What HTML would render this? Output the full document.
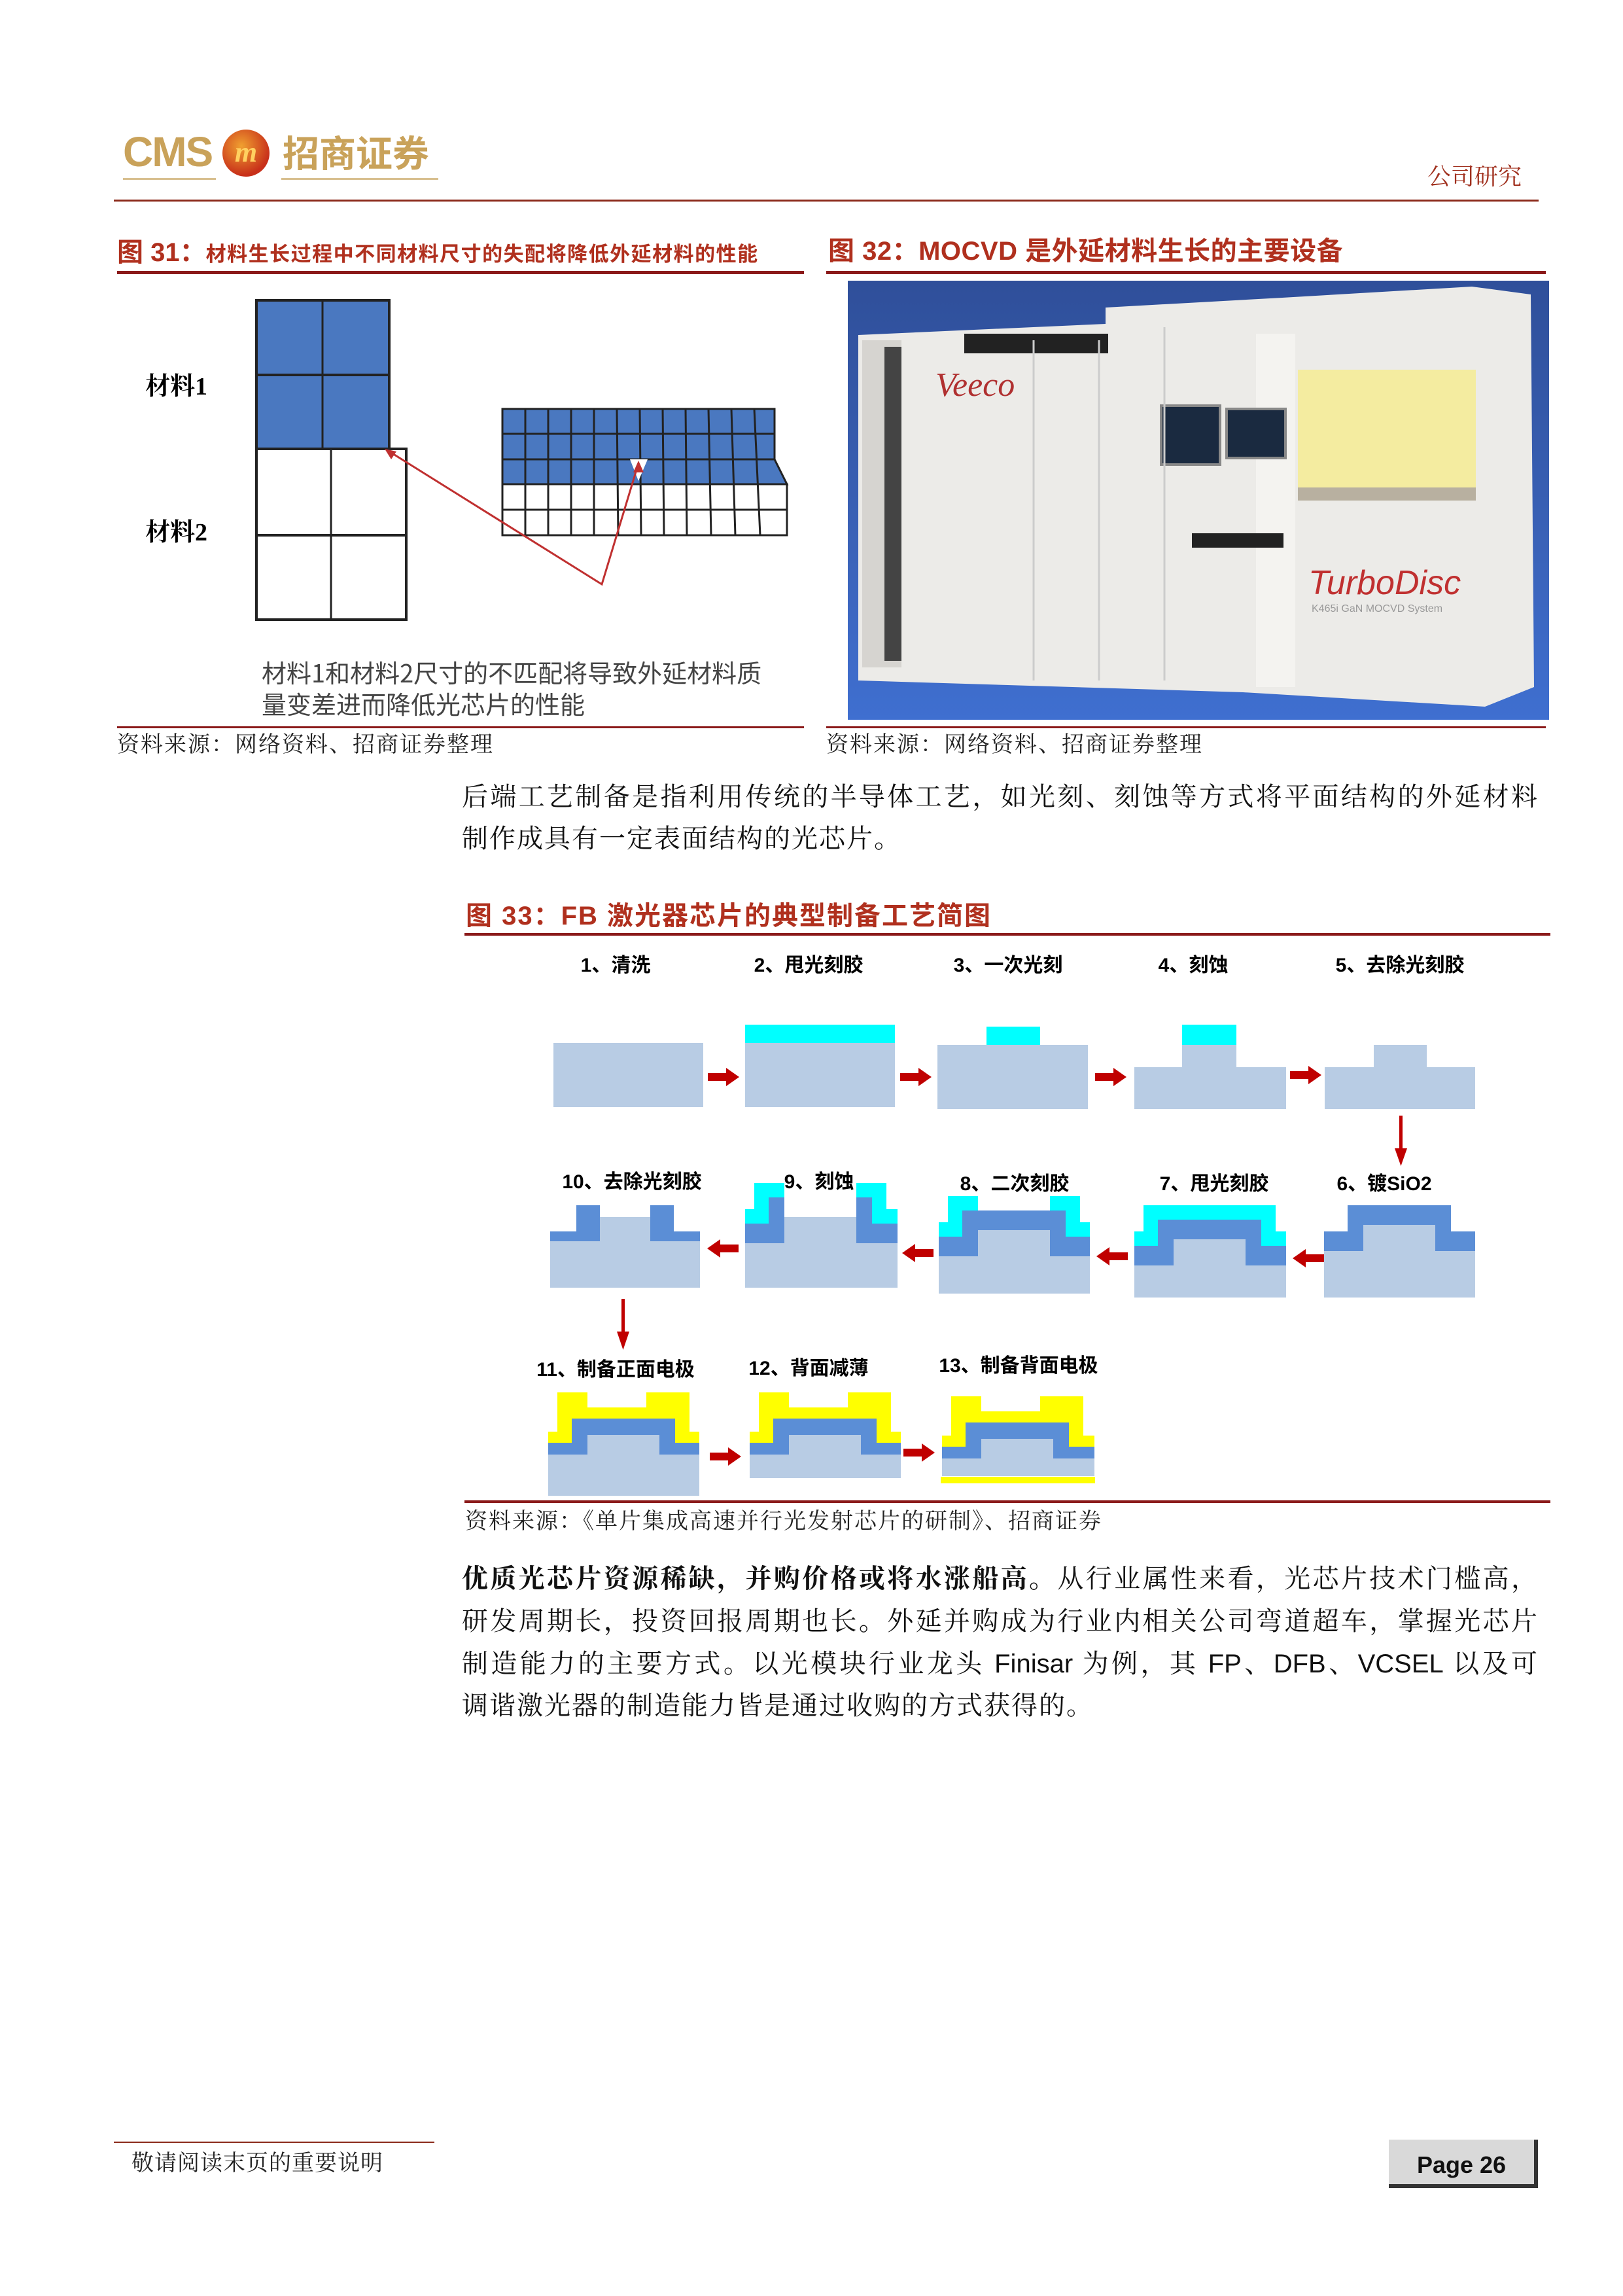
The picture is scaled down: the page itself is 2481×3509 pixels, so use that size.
<!DOCTYPE html>
<html><head><meta charset="utf-8"><style>
body{margin:0;background:#fff}
#p{position:relative;width:2481px;height:3509px;overflow:hidden;background:#fff;font-family:"Liberation Serif","Noto Serif CJK SC",serif}
.a{position:absolute;white-space:nowrap;line-height:1}
.t{color:#b0301e;font-family:"Liberation Sans","Noto Sans CJK SC",sans-serif;font-weight:bold}
.src{font-size:34px;color:#222;letter-spacing:2px}
.bl{position:absolute;left:706px;width:1644px;font-size:40px;line-height:1;color:#111;text-align:justify;text-align-last:justify;white-space:nowrap}
.lb{position:absolute;font-family:"Liberation Sans","Noto Sans CJK SC",sans-serif;font-weight:bold;font-size:30px;color:#000;line-height:1;white-space:nowrap;transform:translateX(-50%)}
</style></head><body><div id="p">
<!-- header -->
<div class="a" style="left:188px;top:200px;font-family:'Liberation Sans',sans-serif;font-weight:bold;font-size:64px;color:#c9a25a;letter-spacing:-2px">CMS</div>
<div class="a" style="left:340px;top:198px;width:72px;height:72px;border-radius:50%;background:radial-gradient(circle at 40% 35%,#f0a030,#c8301a 70%);color:#ffd060;font:bold italic 44px 'Liberation Serif',serif;text-align:center;line-height:70px">m</div>
<div class="a" style="left:432px;top:204px;font-family:'Noto Sans CJK SC',sans-serif;font-weight:bold;font-size:56px;color:#c9a25a">招商证券</div>
<div class="a" style="left:188px;top:272px;width:142px;height:3px;background:#d8c090"></div>
<div class="a" style="left:430px;top:272px;width:240px;height:3px;background:#d8c090"></div>
<div class="a" style="left:2182px;top:250px;font-size:36px;color:#a0301e;font-family:'Noto Serif CJK SC',serif">公司研究</div>
<div class="a" style="left:174px;top:305px;width:2178px;height:3px;background:#8b2a1a"></div>

<!-- fig 31/32 titles -->
<div class="a t" style="left:179px;top:366px;font-size:40px">图 31：<span style="font-size:31px;letter-spacing:1.5px">材料生长过程中不同材料尺寸的失配将降低外延材料的性能</span></div>
<div class="a" style="left:179px;top:414px;width:1050px;height:5px;background:#8b1a1a"></div>
<div class="a t" style="left:1266px;top:364px;font-size:40px;letter-spacing:0.5px">图 32：MOCVD 是外延材料生长的主要设备</div>
<div class="a" style="left:1263px;top:414px;width:1100px;height:5px;background:#8b1a1a"></div>

<svg class="a" style="left:0;top:0" width="2481" height="1200">
 <!-- fig31 -->
 <rect x="392" y="459" width="203" height="227" fill="#4a78c0" stroke="#222" stroke-width="4"/>
 <line x1="493" y1="459" x2="493" y2="686" stroke="#222" stroke-width="3"/>
 <line x1="392" y1="573" x2="595" y2="573" stroke="#222" stroke-width="4"/>
 <rect x="392" y="686" width="229" height="261" fill="#fff" stroke="#222" stroke-width="4"/>
 <line x1="506" y1="686" x2="506" y2="947" stroke="#222" stroke-width="3"/>
 <line x1="392" y1="818" x2="621" y2="818" stroke="#222" stroke-width="4"/>
 <polygon points="768,625 1184,625 1184,702 1203,740 768,740" fill="#4a78c0" stroke="#222" stroke-width="3"/>
 <line x1="768" y1="663" x2="1184" y2="663" stroke="#222" stroke-width="3"/>
 <line x1="768" y1="702" x2="1184" y2="702" stroke="#222" stroke-width="3"/>
 <rect x="768" y="740" width="435" height="78" fill="#fff" stroke="#222" stroke-width="3"/>
 <line x1="768" y1="779" x2="1203" y2="779" stroke="#222" stroke-width="3"/>
 <g stroke="#222" stroke-width="3">
  <line x1="803" y1="625" x2="803" y2="818"/><line x1="838" y1="625" x2="838" y2="818"/><line x1="873" y1="625" x2="873" y2="818"/><line x1="908" y1="625" x2="908" y2="818"/><line x1="943" y1="625" x2="945" y2="818"/><line x1="978" y1="625" x2="980" y2="818"/><line x1="1013" y1="625" x2="1015" y2="818"/><line x1="1048" y1="625" x2="1050" y2="818"/><line x1="1083" y1="625" x2="1087" y2="818"/><line x1="1118" y1="625" x2="1124" y2="818"/><line x1="1153" y1="625" x2="1162" y2="818"/>
 </g>
 <polygon points="963,702 990,702 976,735" fill="#fff"/>
 <polyline points="595,690 920,893 976,708" fill="none" stroke="#c03030" stroke-width="3"/>
 <polygon points="588,686 606,690 598,702" fill="#c03030"/>
 <polygon points="976,704 968,722 984,722" fill="#c03030"/>
 <!-- fig32 photo -->
 <defs><linearGradient id="bg" x1="0" y1="0" x2="0" y2="1"><stop offset="0" stop-color="#2f4f9a"/><stop offset="0.6" stop-color="#3a62b8"/><stop offset="1" stop-color="#3f6fd0"/></linearGradient></defs>
 <rect x="1296" y="429" width="1072" height="671" fill="url(#bg)"/>
 <polygon points="1312,512 1690,495 1690,470 1960,455 2250,438 2340,450 2345,1050 2270,1080 1900,1058 1312,1040" fill="#ecebe8"/>
 <rect x="1318" y="520" width="60" height="500" fill="#d6d4d0"/>
 <rect x="1352" y="530" width="26" height="480" fill="#444"/>
 <rect x="1920" y="510" width="60" height="540" fill="#f4f3f0"/>
 <rect x="1984" y="565" width="272" height="197" fill="#f4eca0"/>
 <rect x="1984" y="745" width="272" height="20" fill="#b8b0a0"/>
 <rect x="1474" y="510" width="220" height="30" fill="#222"/>
 <rect x="1775" y="620" width="90" height="90" fill="#1a2a40" stroke="#888" stroke-width="4"/>
 <rect x="1875" y="625" width="90" height="75" fill="#1a2a40" stroke="#888" stroke-width="4"/>
 <rect x="1822" y="815" width="140" height="22" fill="#222"/>
 <line x1="1580" y1="520" x2="1580" y2="1040" stroke="#ccc" stroke-width="3"/>
 <line x1="1680" y1="520" x2="1680" y2="1040" stroke="#ccc" stroke-width="3"/>
 <line x1="1780" y1="500" x2="1780" y2="1040" stroke="#ccc" stroke-width="3"/>
 <text x="1430" y="605" font-family="Liberation Serif" font-style="italic" font-size="52" fill="#b03030">Veeco</text>
 <text x="2000" y="908" font-family="Liberation Sans" font-style="italic" font-size="52" fill="#c03030">TurboDisc</text>
 <text x="2005" y="935" font-family="Liberation Sans" font-size="16" fill="#999">K465i GaN MOCVD System</text>
</svg>

<div class="a" style="left:222px;top:572px;font-size:38px;font-weight:bold;font-family:'Liberation Serif','Noto Serif CJK SC',serif">材料1</div>
<div class="a" style="left:222px;top:795px;font-size:38px;font-weight:bold;font-family:'Liberation Serif','Noto Serif CJK SC',serif">材料2</div>
<div class="a" style="left:400px;top:1008px;font-size:38px;color:#444;font-family:'Noto Sans CJK SC',sans-serif">材料1和材料2尺寸的不匹配将导致外延材料质</div>
<div class="a" style="left:400px;top:1056px;font-size:38px;color:#444;font-family:'Noto Sans CJK SC',sans-serif">量变差进而降低光芯片的性能</div>

<div class="a" style="left:179px;top:1110px;width:1050px;height:3px;background:#8b1a1a"></div>
<div class="a" style="left:1263px;top:1110px;width:1100px;height:3px;background:#8b1a1a"></div>
<div class="a src" style="left:179px;top:1122px">资料来源：网络资料、招商证券整理</div>
<div class="a src" style="left:1263px;top:1122px">资料来源：网络资料、招商证券整理</div>

<div class="bl" style="top:1198px">后端工艺制备是指利用传统的半导体工艺，如光刻、刻蚀等方式将平面结构的外延材料</div>
<div class="a" style="left:706px;top:1262px;font-size:40px;letter-spacing:2px;color:#111">制作成具有一定表面结构的光芯片。</div>

<!-- fig33 -->
<div class="a t" style="left:712px;top:1380px;font-size:40px;letter-spacing:2px">图 33：FB 激光器芯片的典型制备工艺简图</div>
<div class="a" style="left:710px;top:1426px;width:1660px;height:4px;background:#8b1a1a"></div>

<div class="lb" style="left:941px;top:1461px">1、清洗</div>
<div class="lb" style="left:1236px;top:1461px">2、甩光刻胶</div>
<div class="lb" style="left:1541px;top:1461px">3、一次光刻</div>
<div class="lb" style="left:1824px;top:1461px">4、刻蚀</div>
<div class="lb" style="left:2140px;top:1461px">5、去除光刻胶</div>
<div class="lb" style="left:966px;top:1792px">10、去除光刻胶</div>
<div class="lb" style="left:1252px;top:1792px">9、刻蚀</div>
<div class="lb" style="left:1551px;top:1795px">8、二次刻胶</div>
<div class="lb" style="left:1856px;top:1795px">7、甩光刻胶</div>
<div class="lb" style="left:2116px;top:1795px">6、镀SiO2</div>
<div class="lb" style="left:941px;top:2079px">11、制备正面电极</div>
<div class="lb" style="left:1236px;top:2077px">12、背面减薄</div>
<div class="lb" style="left:1557px;top:2073px">13、制备背面电极</div>

<svg class="a" style="left:0;top:0" width="2481" height="2320">
 <g fill="#b8cce4">
  <rect x="846" y="1594" width="229" height="98"/>
  <rect x="1139" y="1594" width="229" height="98"/>
  <rect x="1433" y="1597" width="230" height="98"/>
  <path d="M1734,1631H1807V1597H1890V1631H1966V1695H1734Z"/>
  <path d="M2025,1631H2100V1597H2181V1631H2255V1695H2025Z"/>
 </g>
 <g fill="#00ffff">
  <rect x="1139" y="1566" width="229" height="28"/>
  <rect x="1508" y="1569" width="82" height="28"/>
  <rect x="1807" y="1566" width="83" height="31"/>
 </g>
 <g fill="#c00000">
  <g transform="translate(1106,1646)"><path d="M-24,-6H4V-14L24,0L4,14V6H-24Z"/></g>
  <g transform="translate(1400,1646)"><path d="M-24,-6H4V-14L24,0L4,14V6H-24Z"/></g>
  <g transform="translate(1698,1646)"><path d="M-24,-6H4V-14L24,0L4,14V6H-24Z"/></g>
  <g transform="translate(1996,1643)"><path d="M-24,-6H4V-14L24,0L4,14V6H-24Z"/></g>
  <rect x="2139" y="1705" width="5" height="55"/><polygon points="2132,1755 2151,1755 2141.5,1782"/>
  <g transform="translate(2000,1923) scale(-1,1)"><path d="M-24,-6H4V-14L24,0L4,14V6H-24Z"/></g>
  <g transform="translate(1700,1920) scale(-1,1)"><path d="M-24,-6H4V-14L24,0L4,14V6H-24Z"/></g>
  <g transform="translate(1403,1915) scale(-1,1)"><path d="M-24,-6H4V-14L24,0L4,14V6H-24Z"/></g>
  <g transform="translate(1105,1908) scale(-1,1)"><path d="M-24,-6H4V-14L24,0L4,14V6H-24Z"/></g>
  <rect x="950" y="1985" width="5" height="55"/><polygon points="943,2035 962,2035 952.5,2063"/>
  <g transform="translate(1109,2226)"><path d="M-24,-6H4V-14L24,0L4,14V6H-24Z"/></g>
  <g transform="translate(1405,2220)"><path d="M-24,-6H4V-14L24,0L4,14V6H-24Z"/></g>
 </g>
 <g transform="translate(2024,1842)">
  <path d="M0,70H60V30H170V70H231V141H0Z" fill="#b8cce4"/>
  <polygon points="0,40 36,40 36,0 194,0 194,40 231,40 231,70 170,70 170,30 60,30 60,70 0,70" fill="#5b8ed6"/>
 </g>
 <g transform="translate(1734,1864)">
  <path d="M0,70H60V30H170V70H232V119H0Z" fill="#b8cce4"/>
  <polygon points="0,40 36,40 36,0 194,0 194,40 232,40 232,70 170,70 170,30 60,30 60,70 0,70" fill="#5b8ed6"/>
  <polygon points="0,18 14,18 14,-22 216,-22 216,18 232,18 232,40 194,40 194,0 36,0 36,40 0,40" fill="#00ffff"/>
 </g>
 <g transform="translate(1435,1850)">
  <path d="M0,70H60V30H170V70H231V127H0Z" fill="#b8cce4"/>
  <polygon points="0,40 36,40 36,0 194,0 194,40 231,40 231,70 170,70 170,30 60,30 60,70 0,70" fill="#5b8ed6"/>
  <polygon points="0,18 14,18 14,-22 60,-22 60,0 36,0 36,40 0,40" fill="#00ffff"/>
  <polygon points="231,18 216,18 216,-22 170,-22 170,0 194,0 194,40 231,40" fill="#00ffff"/>
 </g>
 <g transform="translate(1139,1830)">
  <path d="M0,70H60V30H170V70H233V138H0Z" fill="#b8cce4"/>
  <polygon points="0,40 36,40 36,0 60,0 60,70 0,70" fill="#5b8ed6"/>
  <polygon points="233,40 194,40 194,0 170,0 170,70 233,70" fill="#5b8ed6"/>
  <polygon points="0,18 14,18 14,-22 60,-22 60,0 36,0 36,40 0,40" fill="#00ffff"/>
  <polygon points="233,18 216,18 216,-22 170,-22 170,0 194,0 194,40 233,40" fill="#00ffff"/>
 </g>
 <g transform="translate(841,1842)">
  <path d="M0,55H60V18H170V55H229V126H0Z" fill="#b8cce4"/>
  <polygon points="0,40 40,40 40,0 76,0 76,55 0,55" fill="#5b8ed6"/>
  <polygon points="229,40 189,40 189,0 153,0 153,55 229,55" fill="#5b8ed6"/>
  <path d="M76,18H153V55H76Z" fill="#b8cce4"/>
 </g>
 <g transform="translate(838,2173)">
  <path d="M0,50H60V20H170V50H231V113H0Z" fill="#b8cce4"/>
  <polygon points="14,-45 14,15 0,15 0,32 36,32 36,-5 194,-5 194,32 231,32 231,15 216,15 216,-45 150,-45 150,-22 60,-22 60,-45" fill="#ffff00"/>
  <polygon points="36,-5 194,-5 194,32 231,32 231,50 170,50 170,20 60,20 60,50 0,50 0,32 36,32" fill="#5b8ed6"/>
 </g>
 <g transform="translate(1146,2173)">
  <path d="M0,50H60V20H170V50H231V86H0Z" fill="#b8cce4"/>
  <polygon points="14,-45 14,15 0,15 0,32 36,32 36,-5 194,-5 194,32 231,32 231,15 216,15 216,-45 150,-45 150,-22 60,-22 60,-45" fill="#ffff00"/>
  <polygon points="36,-5 194,-5 194,32 231,32 231,50 170,50 170,20 60,20 60,50 0,50 0,32 36,32" fill="#5b8ed6"/>
 </g>
 <g transform="translate(1440,2179)">
  <path d="M0,50H60V20H170V50H233V77H0Z" fill="#b8cce4"/>
  <polygon points="14,-45 14,15 0,15 0,32 36,32 36,-5 194,-5 194,32 233,32 233,15 216,15 216,-45 150,-45 150,-22 60,-22 60,-45" fill="#ffff00"/>
  <polygon points="36,-5 194,-5 194,32 233,32 233,50 170,50 170,20 60,20 60,50 0,50 0,32 36,32" fill="#5b8ed6"/>
  <rect x="-2" y="78" width="236" height="10" fill="#ffff00"/>
 </g>
</svg>

<div class="a" style="left:710px;top:2293px;width:1660px;height:4px;background:#8b1a1a"></div>
<div class="a src" style="left:711px;top:2309px">资料来源：《单片集成高速并行光发射芯片的研制》、招商证券</div>

<div class="bl" style="top:2393px"><b>优质光芯片资源稀缺，并购价格或将水涨船高。</b>从行业属性来看，光芯片技术门槛高，</div>
<div class="bl" style="top:2458px">研发周期长，投资回报周期也长。外延并购成为行业内相关公司弯道超车，掌握光芯片</div>
<div class="bl" style="top:2523px">制造能力的主要方式。以光模块行业龙头 <span style="font-family:'Liberation Sans',sans-serif">Finisar</span> 为例，其 <span style="font-family:'Liberation Sans',sans-serif">FP</span>、<span style="font-family:'Liberation Sans',sans-serif">DFB</span>、<span style="font-family:'Liberation Sans',sans-serif">VCSEL</span> 以及可</div>
<div class="a" style="left:706px;top:2587px;font-size:40px;letter-spacing:2px;color:#111">调谐激光器的制造能力皆是通过收购的方式获得的。</div>

<!-- footer -->
<div class="a" style="left:174px;top:3273px;width:490px;height:2px;background:#8b2a1a"></div>
<div class="a" style="left:201px;top:3290px;font-size:34px;letter-spacing:1px;color:#222">敬请阅读末页的重要说明</div>
<div class="a" style="left:2123px;top:3270px;width:222px;height:68px;background:#d9d9d9;border-right:6px solid #333;border-bottom:6px solid #333"></div>
<div class="a" style="left:2123px;top:3288px;width:222px;text-align:center;font:bold 36px 'Liberation Sans',sans-serif;color:#111">Page 26</div>
</div></body></html>
